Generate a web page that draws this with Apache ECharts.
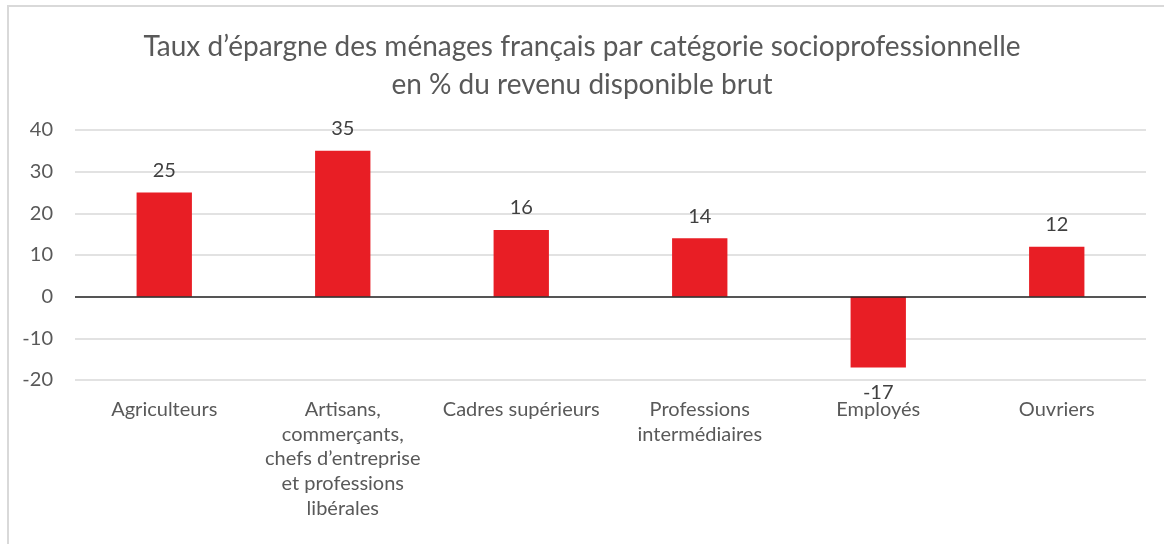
<!DOCTYPE html>
<html>
<head>
<meta charset="utf-8">
<script src="https://cdn.jsdelivr.net/npm/echarts@6/dist/echarts.min.js"></script>
<style>
  html, body { margin: 0; padding: 0; background: #fff; }
  #main { width: 1164px; height: 544px; }
</style>
</head>
<body>
<div id="main"></div>
<script>
// categories and values
var categories = [
  'Agriculteurs',
  'Artisans,\ncommerçants,\nchefs d\u2019entreprise\net professions\nlibérales',
  'Cadres supérieurs',
  'Professions\nintermédiaires',
  'Employés',
  'Ouvriers'
];
var savingsRate = [25, 35, 16, 14, -17, 12];
var yTicks = [-20, -10, 0, 10, 20, 30, 40];

var FONT = 'Lato, "Open Sans", sans-serif';
var chart = echarts.init(document.getElementById('main'), null, { renderer: 'canvas' });

var option = {
  backgroundColor: '#fff',
  animation: false,
  title: {
    text: 'Taux d\u2019épargne des ménages français par catégorie socioprofessionnelle\nen % du revenu disponible brut',
    left: 'center',
    top: 23,
    textStyle: {
      color: '#595959',
      fontFamily: FONT,
      fontWeight: 'normal',
      fontSize: 28,
      lineHeight: 38
    }
  },
  graphic: [{
    type: 'rect',
    shape: { x: 8, y: 6, width: 1200, height: 600 },
    style: { fill: 'none', stroke: '#D9D9D9', lineWidth: 2 },
    silent: true,
    z: -1
  }],
  grid: { left: 75, right: 18, top: 130, bottom: 164 },
  xAxis: {
    type: 'category',
    data: categories,
    axisLine: { show: false },
    axisTick: { show: false },
    axisLabel: {
      color: '#595959',
      fontFamily: FONT,
      fontSize: 20,
      lineHeight: 24.7,
      margin: 17,
      interval: 0
    }
  },
  yAxis: {
    type: 'value',
    min: yTicks[0],
    max: yTicks[yTicks.length - 1],
    interval: 10,
    axisLine: { show: false },
    axisTick: { show: false },
    splitLine: { lineStyle: { color: '#D9D9D9', width: 1.5 } },
    axisLabel: {
      color: '#595959',
      fontFamily: FONT,
      fontSize: 20,
      margin: 22
    }
  },
  series: [{
    type: 'bar',
    barWidth: '31%',
    itemStyle: { color: '#E81E25' },
    data: savingsRate.map(function (v) {
      return { value: v, label: { position: v < 0 ? 'bottom' : 'top', distance: v < 0 ? 15 : 12 } };
    }),
    label: {
      show: true,
      color: '#404040',
      fontFamily: FONT,
      fontSize: 20
    },
    markLine: {
      silent: true,
      symbol: 'none',
      label: { show: false },
      lineStyle: { color: '#262626', type: 'solid', width: 1.5 },
      data: [{ yAxis: 0 }]
    }
  }]
};

chart.setOption(option);
</script>
</body>
</html>
